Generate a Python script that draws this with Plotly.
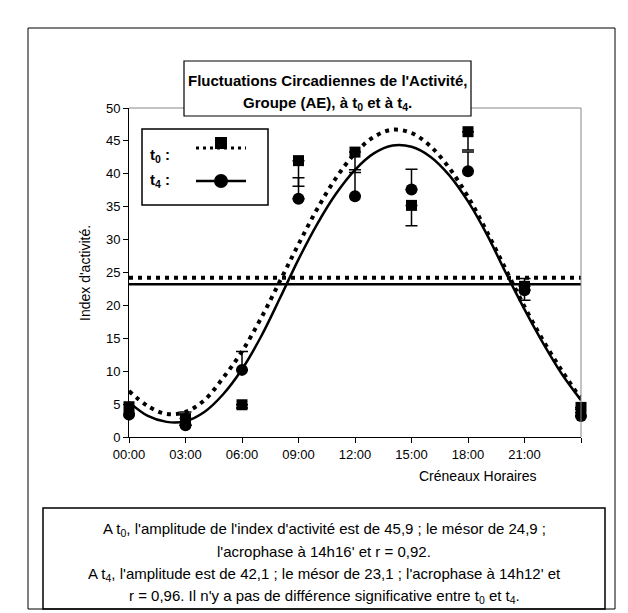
import plotly.graph_objects as go

# ---------------- data ----------------
curve_hours = list(range(25))
t0_curve = [7.0, 4.7, 3.5, 3.8, 5.6, 9.0, 13.0, 18.0, 23.6, 29.3, 34.7, 39.4, 43.1,
            45.6, 46.7, 46.2, 44.2, 40.9, 36.5, 31.2, 25.5, 19.8, 14.6, 10.0, 5.8]
t4_curve = [5.3, 3.2, 2.3, 2.4, 3.8, 6.5, 10.3, 15.2, 21.0, 27.0, 32.4, 37.0, 40.6,
            43.1, 44.3, 44.1, 42.6, 39.8, 35.8, 30.8, 25.0, 19.4, 14.2, 9.5, 5.6]

slot_hours = [0, 3, 6, 9, 12, 15, 18, 21, 24]
t0_mean = [4.6, 2.8, 4.9, 42.0, 43.3, 35.2, 46.4, 22.9, 4.5]
t0_err_minus = [1.0, 1.0, 0.5, 3.9, 3.1, 3.1, 2.8, 2.1, 0.8]
t4_mean = [3.4, 1.8, 10.2, 36.2, 36.6, 37.6, 40.4, 22.3, 3.2]
t4_err_plus = [1.2, 2.0, 2.8, 3.2, 4.0, 3.1, 2.9, 1.8, 1.0]

t0_mesor = 24.2
t4_mesor = 23.2

tick_vals = [0, 3, 6, 9, 12, 15, 18, 21, 24]
tick_text = ["00:00", "03:00", "06:00", "09:00", "12:00", "15:00", "18:00", "21:00", ""]

FONT = "Liberation Sans, Arial, sans-serif"
DOT = "4px,5px"

# ---------------- layout helpers (pixel -> paper) ----------------
L, R, T, B = 121, 573, 100, 429
def px(x):
    return (x - L) / (R - L)
def py(y):
    return (B - y) / (B - T)

fig = go.Figure()

# mesor lines
fig.add_trace(go.Scatter(x=[tick_vals[0], tick_vals[-1]], y=[t0_mesor, t0_mesor], mode="lines",
                         line=dict(color="black", width=4, dash=DOT), showlegend=False,
                         hoverinfo="skip"))
fig.add_trace(go.Scatter(x=[tick_vals[0], tick_vals[-1]], y=[t4_mesor, t4_mesor], mode="lines",
                         line=dict(color="black", width=2.5), showlegend=False,
                         hoverinfo="skip"))
# fitted curves
fig.add_trace(go.Scatter(x=curve_hours, y=t0_curve, mode="lines",
                         line=dict(color="black", width=4, dash=DOT, shape="spline"),
                         showlegend=False))
fig.add_trace(go.Scatter(x=curve_hours, y=t4_curve, mode="lines",
                         line=dict(color="black", width=2.5, shape="spline"),
                         showlegend=False))
# observed means with error bars
fig.add_trace(go.Scatter(x=slot_hours, y=t0_mean, mode="markers", cliponaxis=False,
                         marker=dict(symbol="square", size=11, color="black"),
                         error_y=dict(type="data", symmetric=False,
                                      array=[0] * len(t0_err_minus), arrayminus=t0_err_minus,
                                      width=6, thickness=1.5, color="black"),
                         showlegend=False))
fig.add_trace(go.Scatter(x=slot_hours, y=t4_mean, mode="markers", cliponaxis=False,
                         marker=dict(symbol="circle", size=12, color="black"),
                         error_y=dict(type="data", symmetric=False,
                                      array=t4_err_plus, arrayminus=[0] * len(t4_err_plus),
                                      width=6, thickness=1.5, color="black"),
                         showlegend=False))

shapes = []
# plot area border (top & right)
shapes.append(dict(type="line", xref="paper", yref="paper", x0=0, x1=1, y0=1, y1=1,
                   line=dict(color="#888", width=1)))
shapes.append(dict(type="line", xref="paper", yref="paper", x0=1, x1=1, y0=0, y1=1,
                   line=dict(color="#888", width=1)))
# outer frame
shapes.append(dict(type="rect", xref="paper", yref="paper", x0=px(20), x1=px(607),
                   y0=py(601), y1=py(20), line=dict(color="black", width=1)))
# title box
shapes.append(dict(type="rect", xref="paper", yref="paper", x0=px(176), x1=px(463),
                   y0=py(108), y1=py(53), line=dict(color="black", width=1.2),
                   fillcolor="white", layer="above"))
# text box
shapes.append(dict(type="rect", xref="paper", yref="paper", x0=px(35), x1=px(597),
                   y0=py(601), y1=py(500), line=dict(color="black", width=1.5)))
# legend box
shapes.append(dict(type="rect", xref="paper", yref="paper", x0=px(134), x1=px(260),
                   y0=py(197), y1=py(121), line=dict(color="black", width=1.5),
                   fillcolor="white", layer="above"))
# legend samples
shapes.append(dict(type="line", xref="paper", yref="paper", x0=px(188), x1=px(238),
                   y0=py(140), y1=py(140), line=dict(color="black", width=3, dash="3px,4px"),
                   layer="above"))
shapes.append(dict(type="rect", xref="paper", yref="paper", x0=px(207), x1=px(219),
                   y0=py(141), y1=py(129), line=dict(color="black", width=0),
                   fillcolor="black", layer="above"))
shapes.append(dict(type="line", xref="paper", yref="paper", x0=px(188), x1=px(238),
                   y0=py(173), y1=py(173), line=dict(color="black", width=2.5),
                   layer="above"))
shapes.append(dict(type="circle", xref="paper", yref="paper", x0=px(206), x1=px(220),
                   y0=py(180), y1=py(166), line=dict(color="black", width=0),
                   fillcolor="black", layer="above"))

ann = []
ann.append(dict(xref="paper", yref="paper", x=px(319.5), y=py(73), xanchor="center",
                yanchor="middle", showarrow=False,
                text="<b>Fluctuations Circadiennes de l'Activité,</b>",
                font=dict(family=FONT, size=15, color="black")))
ann.append(dict(xref="paper", yref="paper", x=px(319.5), y=py(95), xanchor="center",
                yanchor="middle", showarrow=False,
                text="<b>Groupe (AE), à t<sub>0</sub> et à t<sub>4</sub>.</b>",
                font=dict(family=FONT, size=15, color="black")))
ann.append(dict(xref="paper", yref="paper", x=px(140), y=py(147), xanchor="left",
                yanchor="middle", showarrow=False, text="<b>t<sub>0</sub> :</b>",
                font=dict(family=FONT, size=15, color="black")))
ann.append(dict(xref="paper", yref="paper", x=px(140), y=py(172), xanchor="left",
                yanchor="middle", showarrow=False, text="<b>t<sub>4</sub> :</b>",
                font=dict(family=FONT, size=15, color="black")))
ann.append(dict(xref="paper", yref="paper", x=px(77), y=py(265), xanchor="center",
                yanchor="middle", showarrow=False, textangle=-90,
                text="Index d'activité.", font=dict(family=FONT, size=14, color="black")))
ann.append(dict(xref="paper", yref="paper", x=px(470), y=py(468), xanchor="center",
                yanchor="middle", showarrow=False,
                text="Créneaux Horaires", font=dict(family=FONT, size=14, color="black")))
lines = [
    "A t<sub>0</sub>, l'amplitude de l'index d'activité est de 45,9 ; le mésor de 24,9 ;",
    "l'acrophase à 14h16' et r = 0,92.",
    "A t<sub>4</sub>, l'amplitude est de 42,1 ; le mésor de 23,1 ; l'acrophase à 14h12' et",
    "r = 0,96. Il n'y a pas de différence significative entre t<sub>0</sub> et t<sub>4</sub>.",
]
for i, (t, yy) in enumerate(zip(lines, [521, 543, 566, 588])):
    ann.append(dict(xref="paper", yref="paper", x=px(316), y=py(yy), xanchor="center",
                    yanchor="middle", showarrow=False, text=t,
                    font=dict(family=FONT, size=15, color="black")))

fig.update_layout(
    width=628, height=613,
    margin=dict(l=L, r=628 - R, t=T, b=613 - B),
    paper_bgcolor="white", plot_bgcolor="white",
    showlegend=False,
    shapes=shapes, annotations=ann,
    xaxis=dict(range=[0, 24], tickvals=tick_vals, ticktext=tick_text, ticks="outside",
               ticklen=5, tickcolor="black", showline=True, linecolor="black", linewidth=1,
               showgrid=False, zeroline=False,
               tickfont=dict(family=FONT, size=13, color="black")),
    yaxis=dict(range=[0, 50], dtick=5, ticks="outside", ticklen=5, tickcolor="black",
               showline=True, linecolor="black", linewidth=1, showgrid=False, zeroline=False,
               tickfont=dict(family=FONT, size=13, color="black")),
)

fig.write_html("out.html")
